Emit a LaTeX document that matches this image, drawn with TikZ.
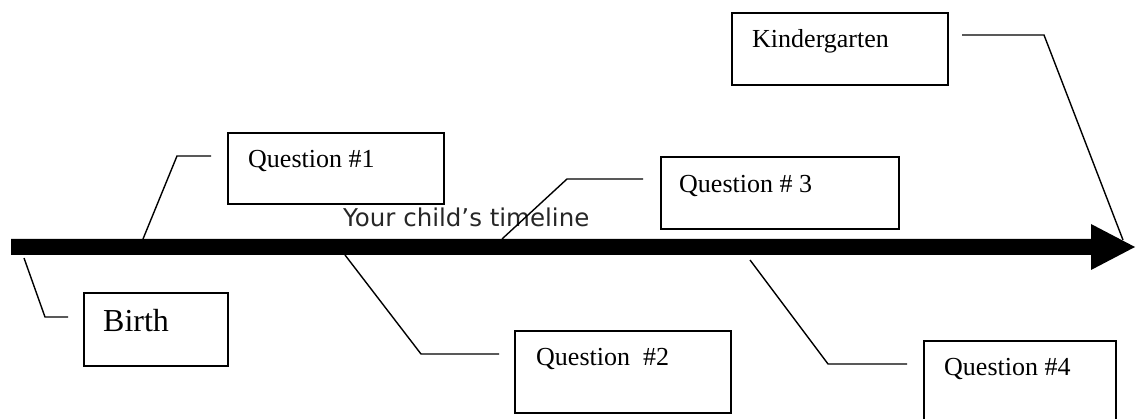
\documentclass[tikz,border=0pt]{standalone}
\usepackage{fontspec}
\setmainfont{Liberation Serif}
\newfontfamily\timelinefont{DejaVu Sans}
\begin{document}
\begin{tikzpicture}[x=1pt,y=-1pt,
  box/.style={draw, line width=1.6pt, rectangle, inner sep=0pt, anchor=north west},
  txt/.style={anchor=base west, inner sep=0pt, font=\fontsize{26}{30}\selectfont},
  conn/.style={line width=1.4pt, line join=miter}]
\useasboundingbox (0,0) rectangle (1136,419);
\clip (0,0) rectangle (1136,419);
% timeline bar with arrowhead
\fill (11,239) -- (1091,239) -- (1091,224) -- (1135,247) -- (1091,270) -- (1091,255) -- (11,255) -- cycle;
\node[anchor=base west, inner sep=0pt, font=\timelinefont\fontsize{24.5}{28}\selectfont, text=black!85] (tl) at (343,227) {Your child’s timeline};
% boxes
\node[box, minimum width=144pt, minimum height=73pt] (bbox) at (83,292) {};
\node[box, minimum width=216pt, minimum height=71pt] (q1box) at (227,132) {};
\node[box, minimum width=216pt, minimum height=82pt] (q2box) at (514,330) {};
\node[box, minimum width=238pt, minimum height=72pt] (q3box) at (660,156) {};
\node[box, minimum width=216pt, minimum height=72pt] (kbox) at (731,12) {};
\node[box, minimum width=192pt, minimum height=90pt] (q4box) at (923,340) {};
% texts
\node[txt, font=\fontsize{32}{36}\selectfont] (tb) at (103,332) {Birth};
\node[txt] (t1) at (248,168) {Question \#1};
\node[txt] (t2) at (536,366) {Question~~\#2};
\node[txt] (t3) at (679,193) {Question \# 3};
\node[txt] (tk) at (752,48) {Kindergarten};
\node[txt] (t4) at (944,376) {Question \#4};
% connector points
\coordinate (b0) at (24,258);  \coordinate (b1) at (45,317);  \coordinate (b2) at (68,317);
\coordinate (a0) at (143,239); \coordinate (a1) at (177,156); \coordinate (a2) at (211,156);
\coordinate (c0) at (345,255); \coordinate (c1) at (421,354); \coordinate (c2) at (499,354);
\coordinate (d0) at (502,239); \coordinate (d1) at (567,179); \coordinate (d2) at (643,179);
\coordinate (e0) at (750,260); \coordinate (e1) at (828,364); \coordinate (e2) at (907,364);
\coordinate (k0) at (962,35);  \coordinate (k1) at (1044,35); \coordinate (k2) at (1123,240);
\draw[conn] (b0) -- (b1) -- (b2);
\draw[conn] (a0) -- (a1) -- (a2);
\draw[conn] (c0) -- (c1) -- (c2);
\draw[conn] (d0) -- (d1) -- (d2);
\draw[conn] (e0) -- (e1) -- (e2);
\draw[conn] (k0) -- (k1) -- (k2);
\end{tikzpicture}
\end{document}
